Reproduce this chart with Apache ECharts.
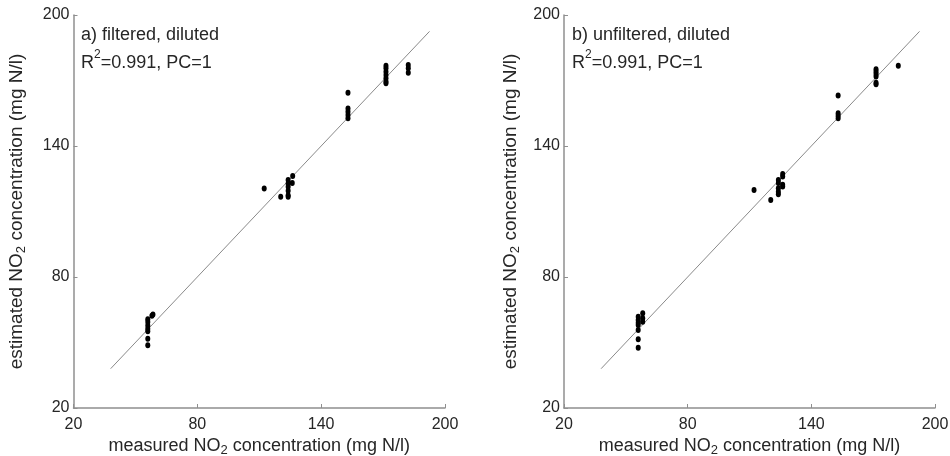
<!DOCTYPE html>
<html>
<head>
<meta charset="utf-8">
<script src="https://cdn.jsdelivr.net/npm/echarts@6/dist/echarts.min.js"></script>
<style>
html,body{margin:0;padding:0;background:#fff;}
#chart{width:950px;height:456px;}
</style>
</head>
<body>
<div id="chart"></div>
<script>
// Axis ticks
var axisTicks = [20, 80, 140, 200];
// Panel titles
var panelTitles = ['a) filtered, diluted', 'b) unfiltered, diluted'];
var panelStats = ['R{sup|2}=0.991, PC=1', 'R{sup|2}=0.991, PC=1'];
// 1:1 reference line
var lineX = [38, 192.5];
var lineY = [38, 192.5];
// Panel a) filtered, diluted
var filteredX = [56, 56, 56, 56, 56, 56, 56, 58.5, 58,
  112.4, 120.4, 124, 124, 124, 124, 124, 124, 126.2, 126,
  153, 153, 153, 153, 153,
  171.4, 171.4, 171.4, 171.4, 171.4, 171.4, 171.4,
  182.2, 182.2, 182.2];
var filteredY = [60.6, 59.4, 57.8, 56.3, 55.1, 51.7, 48.7, 62.8, 62.2,
  120.5, 116.7, 124.4, 122.8, 121.3, 119.5, 117.5, 116.8, 126.3, 123.1,
  164.4, 157.2, 155.7, 154.2, 152.7,
  176.7, 175.6, 174, 172.5, 171, 169.5, 168.7,
  177.1, 175.6, 173.6];
// Panel b) unfiltered, diluted
var unfilteredX = [56, 56, 56, 56, 56, 56, 56, 58.2, 58.2, 58.2,
  112.2, 120.3, 124, 124, 124, 124, 124, 126.1, 126.1, 126.1, 126.1,
  153, 153, 153, 153,
  171.4, 171.4, 171.4, 171.4, 171.4, 171.4,
  182.2];
var unfilteredY = [61.8, 60.3, 59.1, 58, 55.7, 51.5, 47.6, 63.4, 61.1, 59.5,
  119.9, 115.3, 124.4, 123, 120.6, 119.1, 117.9, 127.2, 126, 122.2, 121.4,
  163.1, 155, 153.8, 152.7,
  175.2, 174, 173, 171.8, 169, 168.3,
  176.8];

function zip(a, b) { return a.map(function (v, i) { return [v, b[i]]; }); }

var FONT = '"Liberation Sans", Arial, sans-serif';
var TEXT = '#262626';
var AXIS = '#8f8f8f';

var nameRich = {
  sub: { fontSize: 13, lineHeight: 10, verticalAlign: 'bottom', fontFamily: FONT, color: TEXT }
};

function xAxis(idx) {
  return {
    type: 'value', gridIndex: idx, min: axisTicks[0], max: axisTicks[axisTicks.length - 1], interval: 60,
    name: 'measured NO{sub|2} concentration (mg N/l)',
    nameLocation: 'middle', nameGap: 27, nameMoveOverlap: false,
    nameTextStyle: { fontSize: 18, lineHeight: 22, fontFamily: FONT, color: TEXT, rich: nameRich },
    axisLine: { show: true, lineStyle: { color: AXIS, width: 1.5 } },
    axisTick: { show: true, inside: true, length: 4, lineStyle: { color: AXIS, width: 1 } },
    axisLabel: { fontSize: 16, fontFamily: FONT, color: TEXT, margin: 9, showMinLabel: true, showMaxLabel: true },
    splitLine: { show: false }
  };
}
function yAxis(idx, gap) {
  return {
    type: 'value', gridIndex: idx, min: axisTicks[0], max: axisTicks[axisTicks.length - 1], interval: 60,
    name: 'estimated NO{sub|2} concentration (mg N/l)',
    nameLocation: 'middle', nameGap: gap, nameMoveOverlap: false,
    nameTextStyle: { fontSize: 19, lineHeight: 22, fontFamily: FONT, color: TEXT, rich: nameRich },
    axisLine: { show: true, lineStyle: { color: AXIS, width: 1.5 } },
    axisTick: { show: true, inside: true, length: 4, lineStyle: { color: AXIS, width: 1 } },
    axisLabel: { fontSize: 16, fontFamily: FONT, color: TEXT, margin: 4, showMinLabel: true, showMaxLabel: true },
    splitLine: { show: false }
  };
}

var titleRich = {
  sup: { fontSize: 12, lineHeight: 19, verticalAlign: 'top', fontFamily: FONT, color: TEXT }
};
function panelTitle(i, left) {
  return {
    text: panelTitles[i] + '\n' + panelStats[i],
    left: left, top: 21, padding: 0,
    textStyle: { fontSize: 18, fontWeight: 'normal', lineHeight: 28, fontFamily: FONT, color: TEXT, rich: titleRich }
  };
}

function lineSeries(idx) {
  return {
    type: 'line', xAxisIndex: idx, yAxisIndex: idx, data: zip(lineX, lineY),
    symbol: 'none', silent: true, lineStyle: { color: '#8a8a8a', width: 1 }, z: 1
  };
}
function dotSeries(idx, xs, ys) {
  return {
    type: 'scatter', xAxisIndex: idx, yAxisIndex: idx, data: zip(xs, ys),
    symbol: 'circle', symbolSize: [5, 6], itemStyle: { color: '#000000', opacity: 1 }, z: 3
  };
}

var chart = echarts.init(document.getElementById('chart'), null, { renderer: 'canvas' });
chart.setOption({
  animation: false,
  backgroundColor: '#ffffff',
  title: [panelTitle(0, 81), panelTitle(1, 572)],
  grid: [
    { left: 73.5, top: 15, width: 371.5, height: 393, containLabel: false, outerBoundsMode: 'none' },
    { left: 564, top: 15, width: 371, height: 393, containLabel: false, outerBoundsMode: 'none' }
  ],
  xAxis: [xAxis(0), xAxis(1)],
  yAxis: [yAxis(0, 46), yAxis(1, 42)],
  series: [
    lineSeries(0), dotSeries(0, filteredX, filteredY),
    lineSeries(1), dotSeries(1, unfilteredX, unfilteredY)
  ]
});
</script>
</body>
</html>
